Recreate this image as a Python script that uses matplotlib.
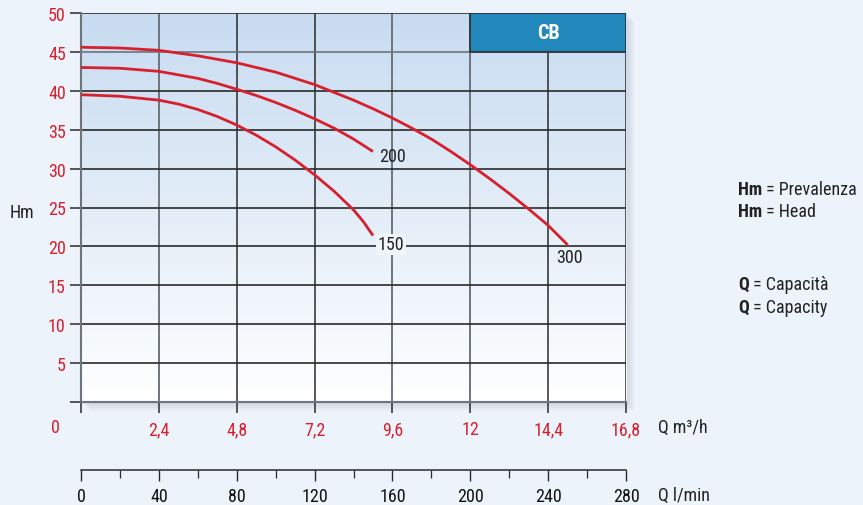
import matplotlib
matplotlib.use("Agg")
import matplotlib.pyplot as plt
import matplotlib.transforms as mtransforms
import numpy as np
from matplotlib.patches import Rectangle
from matplotlib import font_manager

_avail = set(f.name for f in font_manager.fontManager.ttflist)
_cands = ['Roboto Condensed', 'Archivo Narrow', 'PT Sans Narrow', 'Liberation Sans Narrow',
          'Fira Sans Condensed', 'IBM Plex Sans Condensed', 'Encode Sans Condensed',
          'Barlow Semi Condensed', 'Asap Condensed', 'Open Sans Condensed']
_font = next((c for c in _cands if c in _avail), 'DejaVu Sans')
plt.rcParams['font.family'] = [_font, 'DejaVu Sans']

# ---------------- data ----------------
q_300 = [0, 1.2, 2.4, 3.6, 4.8, 6.0, 7.2, 8.4, 9.0, 9.6, 10.2, 10.8, 11.4, 12.0, 12.6, 13.2, 13.8, 14.4, 15.0]
h_300 = [45.6, 45.5, 45.2, 44.5, 43.6, 42.4, 40.8, 38.8, 37.7, 36.5, 35.2, 33.8, 32.2, 30.5, 28.7, 26.8, 24.8, 22.7, 20.2]
q_200 = [0, 1.2, 2.4, 3.6, 4.2, 4.8, 5.4, 6.0, 6.6, 7.2, 7.8, 8.4, 9.0]
h_200 = [43.0, 42.9, 42.5, 41.6, 40.95, 40.2, 39.4, 38.5, 37.5, 36.4, 35.2, 33.8, 32.2]
q_150 = [0, 1.2, 2.4, 3.0, 3.6, 4.2, 4.8, 5.4, 6.0, 6.6, 7.2, 7.8, 8.4, 8.7, 9.0]
h_150 = [39.5, 39.3, 38.8, 38.3, 37.6, 36.7, 35.6, 34.3, 32.8, 31.1, 29.2, 27.1, 24.7, 23.2, 21.4]
curve_labels = ["300", "200", "150"]

x_ticks_m3h = [0, 2.4, 4.8, 7.2, 9.6, 12, 14.4, 16.8]
x_ticklabels_m3h = ["0", "2,4", "4,8", "7,2", "9,6", "12", "14,4", "16,8"]
y_ticks = [0, 5, 10, 15, 20, 25, 30, 35, 40, 45, 50]
y_ticklabels = ["", "5", "10", "15", "20", "25", "30", "35", "40", "45", "50"]
lmin_ticks = [0, 40, 80, 120, 160, 200, 240, 280]
lmin_minor = [20, 60, 100, 140, 180, 220, 260]
model_name = "CB"

RED = "#d7202e"
BG = "#edf3fa"
DARK = "#2a2a2a"
GRAY = "#6d747c"
FS = 13

fig = plt.figure(figsize=(8.63, 5.06), dpi=100, facecolor=BG)
W, H = 863, 506
def fx(px): return px / W
def fy(py): return 1 - py / H

L, R, T, B = 81, 626, 14, 403

# shadow (behind axes)
for i in range(4):
    d = 2 + i * 2
    fig.patches.append(Rectangle((fx(L + d), fy(B + d)), fx(R - L), fy(T) - fy(B),
                                 transform=fig.transFigure, facecolor="#6a7a8a",
                                 alpha=0.06, zorder=-5, edgecolor="none"))

ax = fig.add_axes([fx(L), fy(B), fx(R) - fx(L), fy(T) - fy(B)])
ax.set_zorder(1)

# gradient background
grad = np.linspace(0, 1, 256).reshape(-1, 1, 1)
c_top = np.array([0.78, 0.86, 0.945]).reshape(1, 1, 3)
c_bot = np.array([1.0, 1.0, 1.0]).reshape(1, 1, 3)
img = c_top * (1 - grad) + c_bot * grad
ax.imshow(img, extent=[0, 16.8, 0, 50], origin='upper', aspect='auto', zorder=0,
          interpolation='bilinear')
ax.set_xlim(0, 16.8)
ax.set_ylim(0, 50)

# grid
vcols = {0: GRAY, 2.4: GRAY, 4.8: DARK, 7.2: DARK, 9.6: GRAY, 12: GRAY, 14.4: DARK, 16.8: DARK}
for xv in x_ticks_m3h:
    c = vcols.get(xv, DARK)
    ax.axvline(xv, color=c, lw=1.4 if c == GRAY else 1.1, zorder=1)
for yv in y_ticks:
    ax.axhline(yv, color=GRAY if yv == 45 else DARK, lw=1.2, zorder=1)

# CB box
ax.add_patch(Rectangle((12, 45), 4.8, 5, facecolor="#2288bb", edgecolor=DARK, lw=1.1, zorder=2))
ax.text(14.4, 47.5, model_name, color="white", fontsize=14.5, fontweight="bold",
        ha="center", va="center", zorder=3)

# curves
for q, h in [(q_300, h_300), (q_200, h_200), (q_150, h_150)]:
    ax.plot(q, h, color=RED, lw=2, zorder=4, solid_capstyle='butt', solid_joinstyle='round')

ax.text(15.07, 18.6, curve_labels[0], fontsize=FS, color="#222", ha="center", va="center", zorder=5)
ax.text(9.2, 31.6, curve_labels[1], fontsize=FS, color="#222", ha="left", va="center", zorder=5)
ax.text(9.15, 20.3, curve_labels[2], fontsize=FS, color="#222", ha="left", va="center", zorder=5,
        bbox=dict(facecolor="#f0f5fb", edgecolor="none", pad=1))

for s in ax.spines.values():
    s.set_visible(False)
for s in ('left', 'bottom'):
    ax.spines[s].set_visible(True)
    ax.spines[s].set_color(GRAY)
    ax.spines[s].set_linewidth(1.5)

ax.set_yticks(y_ticks)
ax.set_yticklabels(y_ticklabels, color=RED, fontsize=FS)
ax.set_xticks(x_ticks_m3h)
ax.set_xticklabels([""] + x_ticklabels_m3h[1:], color=RED, fontsize=FS)
ax.tick_params(axis='y', length=8, width=1.1, color=DARK, pad=3)
ax.tick_params(axis='x', length=8, width=1.1, color=DARK, pad=5)

fig.text(fx(55), fy(428), x_ticklabels_m3h[0], color=RED, fontsize=FS, ha="center", va="center")
fig.text(fx(658), fy(428), "Q m³/h", color="#222", fontsize=FS, ha="left", va="center")
fig.text(fx(22), fy(213), "Hm", color="#222", fontsize=FS, ha="center", va="center")

# second axis (l/min)
ax2 = fig.add_axes([fx(L), fy(472), fx(R) - fx(L), 0.001])
ax2.set_xlim(0, 280)
ax2.set_ylim(0, 1)
ax2.patch.set_visible(False)
for s in ['left', 'right', 'bottom']:
    ax2.spines[s].set_visible(False)
ax2.spines['top'].set_color(DARK)
ax2.spines['top'].set_linewidth(1.1)
ax2.set_yticks([])
ax2.xaxis.set_ticks_position('top')
ax2.set_xticks(lmin_ticks)
ax2.set_xticks(lmin_minor, minor=True)
ax2.tick_params(axis='x', which='major', direction='in', length=8, width=1.0, color=DARK,
                labeltop=False, labelbottom=False)
ax2.tick_params(axis='x', which='minor', direction='in', length=6, width=0.9, color=DARK,
                labeltop=False, labelbottom=False)
tr = mtransforms.blended_transform_factory(ax2.transData, fig.transFigure)
for v in lmin_ticks:
    fig.text(v, fy(497), str(v), transform=tr, fontsize=FS, color="#111", ha="center", va="center")
fig.text(fx(658), fy(496), "Q l/min", color="#222", fontsize=FS, ha="left", va="center")

# legend texts on right
fig.canvas.draw()
rend = fig.canvas.get_renderer()
items = [("Hm", " = Prevalenza", 190), ("Hm", " = Head", 212), ("Q", " = Capacità", 285), ("Q", " = Capacity", 308)]
for b, n, y in items:
    t = fig.text(fx(738), fy(y), b, fontsize=FS, fontweight="bold", color="#222", ha="left", va="center")
    ext = t.get_window_extent(rend)
    fig.text(ext.x1 / W, fy(y), n, fontsize=FS, color="#222", ha="left", va="center")

fig.savefig("out.png", dpi=100, facecolor=BG)
